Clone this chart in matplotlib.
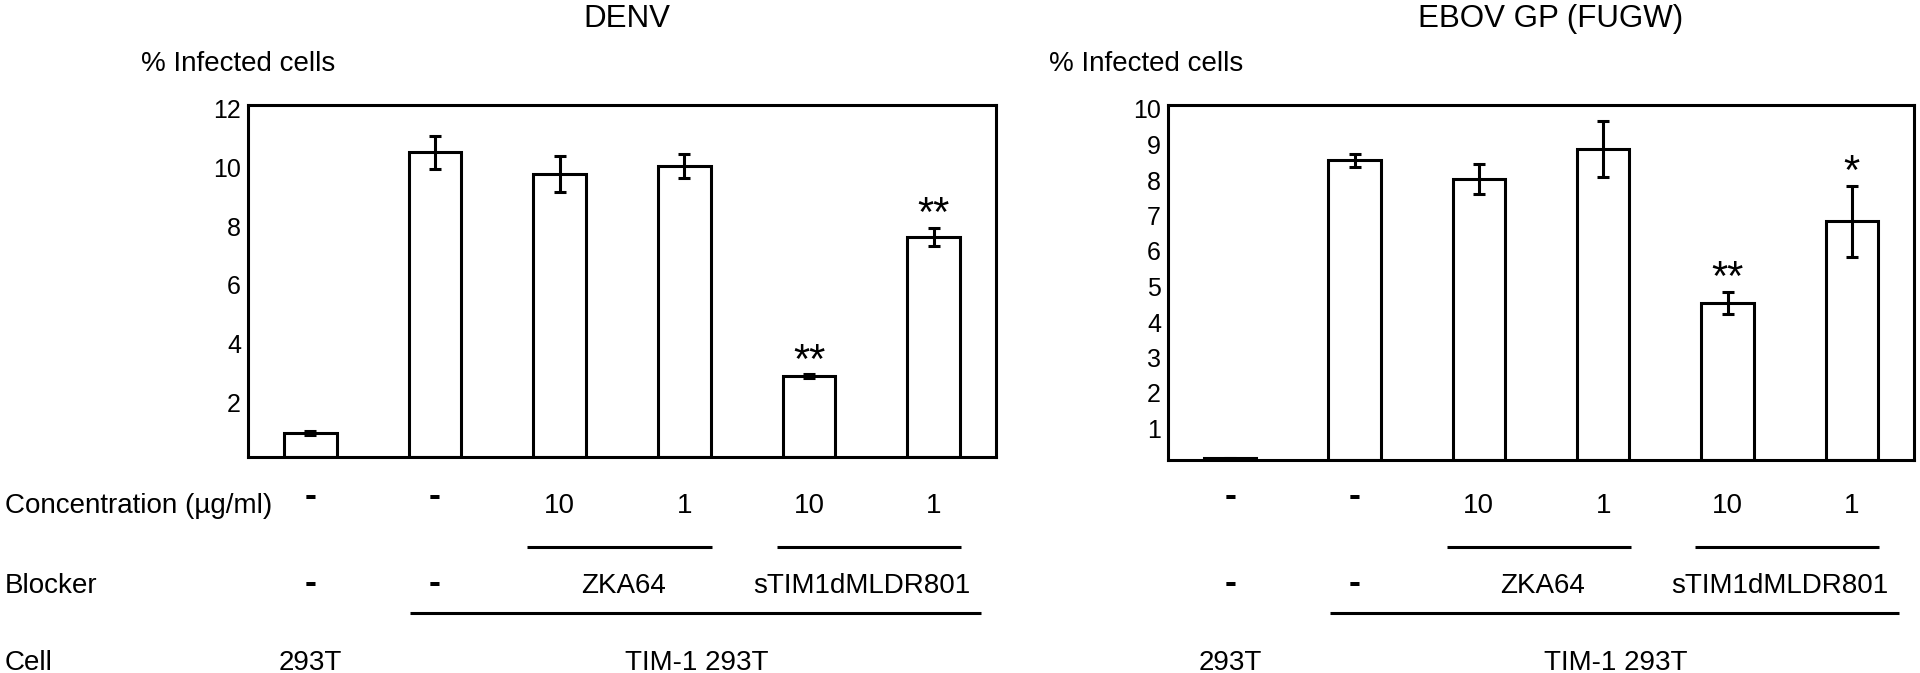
import numpy as np
import matplotlib
matplotlib.use('Agg')
from matplotlib import pyplot as plt
from matplotlib import transforms

plt.rcParams['font.family'] = ['Liberation Sans', 'DejaVu Sans']

# data
denv_vals = [0.82, 10.39, 9.65, 9.93, 2.76, 7.51]
denv_err = [0.07, 0.57, 0.60, 0.41, 0.06, 0.31]
denv_stars = ['', '', '', '', '**', '**']
denv_ticks = [2, 4, 6, 8, 10, 12]

ebov_vals = [0.05, 8.44, 7.92, 8.76, 4.43, 6.73]
ebov_err = [0.02, 0.19, 0.42, 0.78, 0.31, 1.00]
ebov_stars = ['', '', '', '', '**', '*']
ebov_ticks = [1, 2, 3, 4, 5, 6, 7, 8, 9, 10]

conc_labels = ['-', '-', '10', '1', '10', '1']
blocker_dash = ['-', '-']
blocker_names = ['ZKA64', 'sTIM1dMLDR801']
cell_names = ['293T', 'TIM-1 293T']

W, H = 1920, 673
fig = plt.figure(figsize=(W / 100, H / 100), dpi=100)


def fy(px):
    # pixel row -> figure fraction
    return 1 - px / H


def panel(rect, title, title_x, ylab_x, vals, err, stars, ticks, ymax, show_rows):
    ax = fig.add_axes(rect)
    x = np.arange(len(vals))
    ax.bar(x, vals, width=0.42, color='white', edgecolor='black', linewidth=2.2, zorder=2)
    ax.errorbar(x, vals, yerr=err, fmt='none', ecolor='black', elinewidth=2.2,
                capsize=4.5, capthick=2.2, zorder=3)
    for xi, v, e, s in zip(x, vals, err, stars):
        if s:
            ax.annotate(s, (xi, v + e), xytext=(0, 1), textcoords='offset points',
                        ha='center', va='baseline', fontsize=30)
    ax.set_xlim(-0.5, len(vals) - 0.5)
    ax.set_ylim(0, ymax)
    ax.set_xticks([])
    ax.set_yticks(ticks)
    ax.tick_params(axis='y', length=0, pad=5, labelsize=18)
    shift = transforms.ScaledTranslation(0, -4 / 100, fig.dpi_scale_trans)
    for lab in ax.get_yticklabels():
        lab.set_transform(lab.get_transform() + shift)
    for sp in ax.spines.values():
        sp.set_linewidth(2.2)

    fig.text(title_x / W, fy(27), title, ha='center', va='baseline', fontsize=22.5)
    fig.text(ylab_x / W, fy(71), '% Infected cells', ha='left', va='baseline', fontsize=20)

    tr = transforms.blended_transform_factory(ax.transData, fig.transFigure)
    # concentration row
    for xi, lab in zip(x, conc_labels):
        if lab == '-':
            fig.text(xi, fy(506), lab, transform=tr, ha='center', va='baseline',
                     fontsize=26, fontweight='bold')
        else:
            fig.text(xi, fy(513), lab, transform=tr, ha='center', va='baseline', fontsize=20)
    # short lines grouping the blockers
    for a, b in [(2, 3), (4, 5)]:
        ax.plot([a - 0.26, b + 0.22], [fy(547), fy(547)], transform=tr, color='black',
                linewidth=2.2, clip_on=False, solid_capstyle='butt')
    # blocker row
    for xi, lab in zip([0, 1], blocker_dash):
        fig.text(xi, fy(593), lab, transform=tr, ha='center', va='baseline',
                 fontsize=26, fontweight='bold')
    fig.text(2.51, fy(593), blocker_names[0], transform=tr, ha='center', va='baseline', fontsize=20)
    fig.text(4.42, fy(593), blocker_names[1], transform=tr, ha='center', va='baseline', fontsize=20)
    ax.plot([0.8, 5.38], [fy(613), fy(613)], transform=tr, color='black',
            linewidth=2.2, clip_on=False, solid_capstyle='butt')
    # cell row
    fig.text(0, fy(670), cell_names[0], transform=tr, ha='center', va='baseline', fontsize=20)
    fig.text(3.1, fy(670), cell_names[1], transform=tr, ha='center', va='baseline', fontsize=20)

    if show_rows:
        fig.text(5 / W, fy(513), 'Concentration (µg/ml)', ha='left', va='baseline', fontsize=20)
        fig.text(5 / W, fy(593), 'Blocker', ha='left', va='baseline', fontsize=20)
        fig.text(5 / W, fy(670), 'Cell', ha='left', va='baseline', fontsize=20)
    return ax


panel([248 / W, fy(457), 748 / W, 352 / H], 'DENV', 627, 141,
      denv_vals, denv_err, denv_stars, denv_ticks, 12, True)
panel([1168 / W, fy(460), 746 / W, 355 / H], 'EBOV GP (FUGW)', 1551, 1049,
      ebov_vals, ebov_err, ebov_stars, ebov_ticks, 10, False)

fig.savefig('out.png', dpi=100)
